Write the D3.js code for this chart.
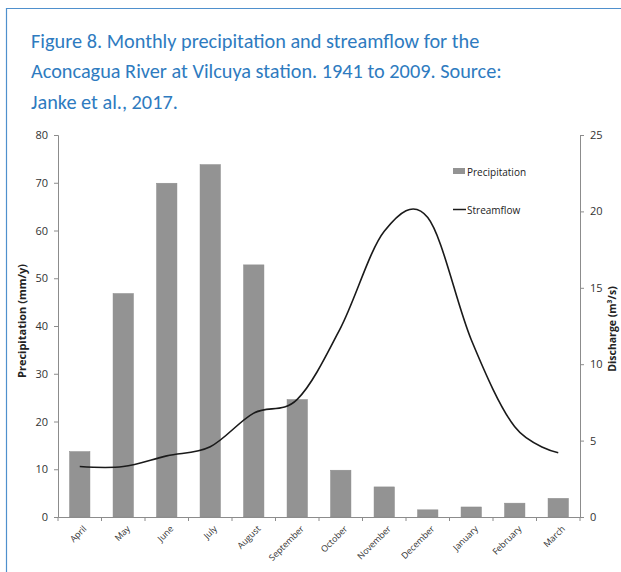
<!DOCTYPE html>
<html>
<head>
<meta charset="utf-8">
<script src="https://cdn.jsdelivr.net/npm/d3@7"></script>
<style>
  html, body { margin: 0; padding: 0; background: #fff; }
  svg { display: block; }
</style>
</head>
<body>
<svg id="chart" width="621" height="572"></svg>
<script>
const months = ["April","May","June","July","August","September","October","November","December","January","February","March"];
const precipitation = [13.7, 46.8, 69.9, 73.8, 52.8, 24.6, 9.8, 6.3, 1.5, 2.1, 2.9, 3.9];
const streamflow = [3.3, 3.3, 4.0, 4.6, 6.8, 7.7, 12.4, 18.7, 19.6, 11.6, 5.9, 4.2];
const precipTicks = [0, 10, 20, 30, 40, 50, 60, 70, 80];
const dischargeTicks = [0, 5, 10, 15, 20, 25];
const titleLines = ["Figure 8. Monthly precipitation and streamflow for the",
                    "Aconcagua River at Vilcuya station. 1941 to 2009. Source:",
                    "Janke et al., 2017."];

(function () {
const svg = d3.select("#chart");
const font = "'Open Sans', 'Liberation Sans', sans-serif";

// frame
svg.append("path")
  .attr("d", "M6.5,572 L6.5,8.5 L621,8.5")
  .attr("fill", "none").attr("stroke", "#4F90CD").attr("stroke-width", 1.2);

// title
titleLines.forEach((t, i) => {
  svg.append("text")
    .attr("x", 31).attr("y", 47.5 + i * 30.5)
    .attr("font-family", "Carlito, 'Open Sans', sans-serif")
    .attr("font-size", 20.3)
    .attr("fill", "#2E7BC0")
    .text(t);
});

const pLeft = 58, pRight = 580, pTop = 135, pBottom = 517;
const xc = d3.scaleBand().domain(months).range([pLeft, pRight]);
const yL = d3.scaleLinear().domain([0, 80]).range([pBottom, pTop]);
const yR = d3.scaleLinear().domain([0, 25]).range([pBottom, pTop]);

// bars
svg.append("g").selectAll("rect").data(precipitation).join("rect")
  .attr("x", (d, i) => xc(months[i]) + xc.bandwidth() / 2 - 10.2)
  .attr("width", 20.4)
  .attr("y", d => yL(d))
  .attr("height", d => pBottom - yL(d))
  .attr("fill", "#939393")
  .attr("stroke", "#8a8a8a").attr("stroke-width", 0.5);

// axes
const axisColor = "#8c8c8c";
const gL = svg.append("g").attr("transform", `translate(${pLeft},0)`)
  .call(d3.axisLeft(yL).tickValues(precipTicks).tickSize(4).tickPadding(6));
const gR = svg.append("g").attr("transform", `translate(${pRight},0)`)
  .call(d3.axisRight(yR).tickValues(dischargeTicks).tickSize(4).tickPadding(6));
const gB = svg.append("g").attr("transform", `translate(0,${pBottom})`)
  .call(d3.axisBottom(xc).tickSize(0).tickFormat(""));
[gL, gR, gB].forEach(g => {
  g.select(".domain").attr("stroke", axisColor);
  g.selectAll(".tick line").attr("stroke", axisColor);
  g.selectAll("text").attr("font-family", font).attr("font-size", 11).attr("fill", "#333");
});
// category boundary ticks
const bounds = months.map(m => xc(m)).concat([pRight]);
svg.append("g").selectAll("line").data(bounds).join("line")
  .attr("x1", d => d).attr("x2", d => d)
  .attr("y1", pBottom).attr("y2", pBottom + 4)
  .attr("stroke", axisColor);

// x labels
svg.append("g").selectAll("text").data(months).join("text")
  .attr("transform", d => `translate(${xc(d) + xc.bandwidth() / 2 + 3},${pBottom + 8}) rotate(-45)`)
  .attr("text-anchor", "end")
  .attr("dy", "0.7em")
  .attr("font-family", font).attr("font-size", 8.8).attr("fill", "#333")
  .text(d => d);

// streamflow line
const line = d3.line()
  .x((d, i) => xc(months[i]) + xc.bandwidth() / 2)
  .y(d => yR(d))
  .curve(d3.curveCardinal.tension(0));
svg.append("path").datum(streamflow)
  .attr("d", line)
  .attr("fill", "none").attr("stroke", "#1a1a1a").attr("stroke-width", 1.6);

// axis titles
svg.append("text")
  .attr("transform", "translate(26,321) rotate(-90)")
  .attr("text-anchor", "middle")
  .attr("font-family", font).attr("font-size", 11).attr("font-weight", "bold").attr("fill", "#222")
  .text("Precipitation (mm/y)");
svg.append("text")
  .attr("transform", "translate(616,329) rotate(-90)")
  .attr("text-anchor", "middle")
  .attr("font-family", font).attr("font-size", 10.5).attr("font-weight", "bold").attr("fill", "#222")
  .text("Discharge (m³/s)");

// legend
const lg = svg.append("g");
lg.append("rect").attr("x", 453).attr("y", 168).attr("width", 12).attr("height", 6).attr("fill", "#939393");
lg.append("text").attr("x", 467).attr("y", 175.5)
  .attr("font-family", font).attr("font-size", 10).attr("fill", "#222").text("Precipitation");
lg.append("line").attr("x1", 453).attr("x2", 466).attr("y1", 209.5).attr("y2", 209.5)
  .attr("stroke", "#1a1a1a").attr("stroke-width", 1.5);
lg.append("text").attr("x", 467).attr("y", 213.5)
  .attr("font-family", font).attr("font-size", 10).attr("fill", "#222").text("Streamflow");
})();
</script>
</body>
</html>
